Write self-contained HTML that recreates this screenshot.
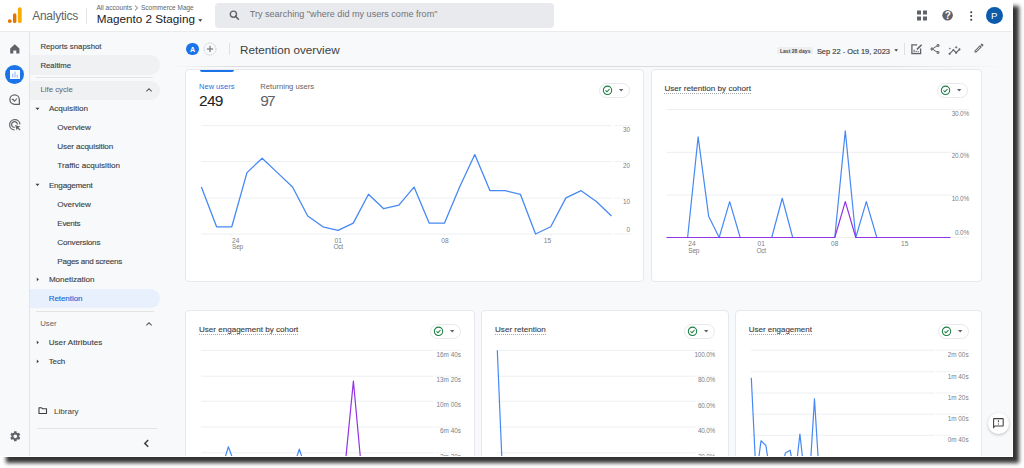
<!DOCTYPE html>
<html><head><meta charset="utf-8"><title>Retention overview - Analytics</title>
<style>
html,body{margin:0;padding:0;background:#fff;width:1024px;height:468px;overflow:hidden}
#frame{position:absolute;left:0;top:0;width:1013px;height:457px;background:#f8f9fa;overflow:hidden;
box-shadow:6px 6px 4px rgba(0,0,0,.8);font-family:"Liberation Sans", Arial, sans-serif}
#frame:after{content:"";position:absolute;right:0;top:0;width:1px;height:457px;background:#fff}
#frame:before{content:"";position:absolute;left:0;bottom:0;width:1013px;height:1px;background:#fff;z-index:5}
.a{position:absolute}
.t{position:absolute;white-space:nowrap;line-height:1}
.nv{-webkit-text-stroke:0.12px currentColor}
.nv2{-webkit-text-stroke:0.15px currentColor}
</style></head>
<body><div id="frame">
<div class="a" style="left:0px;top:0px;width:1013px;height:31px;background:#fff;border-bottom:1px solid #eaebed;box-sizing:content-box"></div>
<svg class="a" style="left:0;top:0" width="30" height="31" viewBox="0 0 30 31">
<rect x="17.9" y="7.3" width="3.8" height="15.8" rx="1.9" fill="#f9ab00"/>
<rect x="13" y="13.2" width="3.4" height="9.9" rx="1.7" fill="#e37400"/>
<circle cx="9.75" cy="21.1" r="1.95" fill="#e37400"/></svg>
<div class="t" style="top:10.34px;font-size:12px;color:#5f6368;left:32.20px;letter-spacing:-0.26px;">Analytics</div>
<div class="a" style="left:86px;top:7.5px;width:1px;height:16px;background:#e3e4e6"></div>
<div class="t" style="top:4.91px;font-size:6.6px;color:#5f6368;left:96.40px;">All accounts</div>
<svg class="a" style="left:134.2px;top:5px" width="5" height="6" viewBox="0 0 5 6"><path d="M1 .6 L3.6 3 L1 5.4" fill="none" stroke="#5f6368" stroke-width=".9"/></svg>
<div class="t" style="top:5.00px;font-size:6.5px;color:#5f6368;left:141.00px;">Scommerce Mage</div>
<div class="t" style="top:13.10px;font-size:11.7px;color:#202124;left:96.80px;">Magento 2 Staging</div>
<svg class="a" style="left:197.9px;top:18.6px" width="5" height="3" viewBox="0 0 5 3"><path d="M.2 .2 H4.4 L2.3 2.8Z" fill="#3c4043"/></svg>
<div class="a" style="left:215px;top:2.5px;width:339px;height:25.5px;background:#e9eaee;border-radius:4px"></div>
<svg class="a" style="left:229px;top:10px" width="11" height="10" viewBox="0 0 11 10">
<circle cx="4.4" cy="4.2" r="3.1" fill="none" stroke="#5f6368" stroke-width="1.4"/>
<path d="M6.6 6.4 L9.4 9.2" stroke="#5f6368" stroke-width="1.5" stroke-linecap="round"/></svg>
<div class="t" style="top:10.41px;font-size:9.09px;color:#6f7479;left:249.70px;">Try searching "where did my users come from"</div>
<svg class="a" style="left:915px;top:9px" width="14" height="13" viewBox="0 0 14 13">
<rect x="2" y="1.5" width="4" height="4" fill="#5f6368"/><rect x="8" y="1.5" width="4" height="4" fill="#5f6368"/>
<rect x="2" y="7.5" width="4" height="4" fill="#5f6368"/><rect x="8" y="7.5" width="4" height="4" fill="#5f6368"/></svg>
<svg class="a" style="left:941px;top:9px" width="14" height="13" viewBox="0 0 14 13">
<circle cx="6.6" cy="6.3" r="5.3" fill="#5f6368"/>
<text x="6.7" y="10" font-family="Liberation Sans, sans-serif" font-size="10" font-weight="bold" fill="#fff" text-anchor="middle">?</text></svg>
<svg class="a" style="left:968px;top:10px" width="6" height="12" viewBox="0 0 6 12">
<circle cx="3.2" cy="2.3" r="1.05" fill="#3c4043"/><circle cx="3.2" cy="6" r="1.05" fill="#3c4043"/><circle cx="3.2" cy="9.7" r="1.05" fill="#3c4043"/></svg>
<div class="a" style="left:985.6px;top:6.7px;width:17.2px;height:17.2px;background:#0b5cad;border-radius:50%"></div>
<div class="t" style="top:11.27px;font-size:9.6px;color:#fff;left:894.30px;width:200px;text-align:center;">P</div>
<div class="a" style="left:29px;top:32px;width:1px;height:425px;background:#e3e4e6"></div>
<svg class="a" style="left:9px;top:43px" width="12" height="12" viewBox="0 0 12 12">
<path d="M1.2 5.6 L5.8 1.3 L10.4 5.6 V10.6 H7.3 V7.4 H4.3 V10.6 H1.2Z" fill="#5f6368"/></svg>
<div class="a" style="left:5.2px;top:64.8px;width:19px;height:19px;background:#1a73e8;border-radius:50%"></div>
<svg class="a" style="left:10px;top:69.8px" width="10" height="9" viewBox="0 0 10 9">
<rect x="0" y="0" width="10" height="9" fill="#fff"/>
<rect x="2.3" y="3.6" width="1" height="4" fill="#8ab4f8"/><rect x="4.5" y="1.6" width="1" height="6" fill="#8ab4f8"/><rect x="6.7" y="4.6" width="1" height="3" fill="#8ab4f8"/></svg>
<svg class="a" style="left:8px;top:93px" width="14" height="14" viewBox="0 0 14 14">
<path d="M11.4 11.3 H6.6 A4.7 4.7 0 1 1 11.3 6.6 Z" fill="none" stroke="#5f6368" stroke-width="1.25" stroke-linejoin="round"/>
<path d="M3.8 7 L5 6.1 L6.4 8.3 L8.9 5.5" fill="none" stroke="#5f6368" stroke-width="1.1" stroke-linejoin="round"/></svg>
<svg class="a" style="left:8px;top:118px" width="14" height="14" viewBox="0 0 14 14">
<path d="M12 6.4 A5.2 5.2 0 1 0 6.6 12" fill="none" stroke="#5f6368" stroke-width="1.2"/>
<path d="M9.4 6.6 A2.9 2.9 0 1 0 6.7 9.4" fill="none" stroke="#5f6368" stroke-width="1.2"/>
<path d="M7 7 L12.6 8.8 L10.4 9.6 L12.6 11.8 L11.8 12.6 L9.6 10.4 L8.8 12.6Z" fill="#5f6368"/></svg>
<svg class="a" style="left:8.6px;top:429.8px" width="12.6" height="12.6" viewBox="0 0 24 24">
<path fill="#5f6368" d="M19.14 12.94c.04-.3.06-.61.06-.94 0-.32-.02-.64-.07-.94l2.03-1.58a.49.49 0 0 0 .12-.61l-1.92-3.32a.488.488 0 0 0-.59-.22l-2.39.96c-.5-.38-1.03-.7-1.62-.94l-.36-2.54a.484.484 0 0 0-.48-.41h-3.84c-.24 0-.43.17-.47.41l-.36 2.54c-.59.24-1.13.57-1.62.94l-2.39-.96c-.22-.08-.47 0-.59.22L2.74 8.87c-.12.21-.08.47.12.61l2.03 1.58c-.05.3-.09.63-.09.94s.02.64.07.94l-2.03 1.58a.49.49 0 0 0-.12.61l1.92 3.32c.12.22.37.29.59.22l2.39-.96c.5.38 1.03.7 1.62.94l.36 2.54c.05.24.24.41.48.41h3.84c.24 0 .44-.17.47-.41l.36-2.54c.59-.24 1.13-.56 1.62-.94l2.39.96c.22.08.47 0 .59-.22l1.92-3.32c.12-.22.07-.47-.12-.61l-2.01-1.58zM12 15.6c-1.98 0-3.6-1.62-3.6-3.6s1.62-3.6 3.6-3.6 3.6 1.62 3.6 3.6-1.62 3.6-3.6 3.6z"/></svg>
<div class="t nv" style="top:42.70px;font-size:7.8px;color:#3c4043;left:40.40px;">Reports snapshot</div>
<div class="a" style="left:29.5px;top:55.2px;width:130.5px;height:19.7px;background:#eff1f3;border-radius:0 10px 10px 0"></div>
<div class="t nv" style="top:61.80px;font-size:7.8px;color:#3c4043;left:40.40px;">Realtime</div>
<div class="a" style="left:36.2px;top:77px;width:117px;height:1px;background:#e3e4e6"></div>
<div class="a" style="left:29.5px;top:80.5px;width:130.5px;height:19.1px;background:#eff1f3;border-radius:0 10px 10px 0"></div>
<div class="t" style="top:86.40px;font-size:7.8px;color:#5f6368;left:40.40px;">Life cycle</div>
<svg class="a" style="left:144.8px;top:86.5px" width="8" height="6" viewBox="0 0 8 6"><path d="M1.3 4.4 L4 1.8 L6.7 4.4" fill="none" stroke="#5f6368" stroke-width="1.1"/></svg>
<svg class="a" style="left:35.4px;top:107.30000000000001px" width="5" height="4" viewBox="0 0 5 4"><path d="M.4 .8 H4.5 L2.45 3.1Z" fill="#3c4043"/></svg>
<div class="t nv" style="top:105.44px;font-size:8.1px;color:#3c4043;left:48.90px;letter-spacing:-0.006px;">Acquisition</div>
<div class="t nv" style="top:124.24px;font-size:8.1px;color:#3c4043;left:57.30px;letter-spacing:-0.011px;">Overview</div>
<div class="t nv" style="top:143.44px;font-size:8.1px;color:#3c4043;left:57.30px;letter-spacing:-0.109px;">User acquisition</div>
<div class="t nv" style="top:162.44px;font-size:8.1px;color:#3c4043;left:57.30px;letter-spacing:0.007px;">Traffic acquisition</div>
<svg class="a" style="left:35.4px;top:183.4px" width="5" height="4" viewBox="0 0 5 4"><path d="M.4 .8 H4.5 L2.45 3.1Z" fill="#3c4043"/></svg>
<div class="t nv" style="top:181.54px;font-size:8.1px;color:#3c4043;left:48.90px;letter-spacing:-0.214px;">Engagement</div>
<div class="t nv" style="top:200.54px;font-size:8.1px;color:#3c4043;left:57.30px;letter-spacing:-0.011px;">Overview</div>
<div class="t nv" style="top:219.54px;font-size:8.1px;color:#3c4043;left:57.30px;letter-spacing:-0.309px;">Events</div>
<div class="t nv" style="top:238.54px;font-size:8.1px;color:#3c4043;left:57.30px;letter-spacing:-0.184px;">Conversions</div>
<div class="t nv" style="top:257.54px;font-size:8.1px;color:#3c4043;left:57.30px;letter-spacing:-0.271px;">Pages and screens</div>
<svg class="a" style="left:35.8px;top:277.2px" width="4" height="5" viewBox="0 0 4 5"><path d="M.8 .6 V4.2 L2.9 2.4Z" fill="#3c4043"/></svg>
<div class="t nv" style="top:276.34px;font-size:8.1px;color:#3c4043;left:48.90px;letter-spacing:-0.030px;">Monetization</div>
<div class="a" style="left:29.5px;top:289.2px;width:130px;height:19.3px;background:#e8f0fe;border-radius:0 10px 10px 0"></div>
<div class="t nv" style="top:294.73px;font-size:8.0px;color:#1967d2;left:48.70px;letter-spacing:-0.055px;">Retention</div>
<div class="a" style="left:35.9px;top:311px;width:117.7px;height:1px;background:#e3e4e6"></div>
<div class="t" style="top:319.90px;font-size:7.8px;color:#5f6368;left:40.20px;">User</div>
<svg class="a" style="left:144.5px;top:320.6px" width="8" height="6" viewBox="0 0 8 6"><path d="M1.3 4.4 L4 1.8 L6.7 4.4" fill="none" stroke="#5f6368" stroke-width="1.1"/></svg>
<svg class="a" style="left:35.8px;top:340.09999999999997px" width="4" height="5" viewBox="0 0 4 5"><path d="M.8 .6 V4.2 L2.9 2.4Z" fill="#3c4043"/></svg>
<div class="t nv" style="top:338.93px;font-size:8.0px;color:#3c4043;left:48.70px;letter-spacing:0.080px;">User Attributes</div>
<svg class="a" style="left:35.8px;top:358.9px" width="4" height="5" viewBox="0 0 4 5"><path d="M.8 .6 V4.2 L2.9 2.4Z" fill="#3c4043"/></svg>
<div class="t nv" style="top:357.73px;font-size:8.0px;color:#3c4043;left:48.70px;letter-spacing:-0.093px;">Tech</div>
<svg class="a" style="left:38px;top:406px" width="10" height="9" viewBox="0 0 10 9"><path d="M1 1.8 H3.6 L4.6 2.8 H8.5 V7.5 H1 Z" fill="none" stroke="#3c4043" stroke-width="1.1" stroke-linejoin="round"/></svg>
<div class="t" style="top:407.79px;font-size:8.05px;color:#3c4043;left:54.00px;">Library</div>
<div class="a" style="left:36.5px;top:428px;width:121.3px;height:1px;background:#e3e4e6"></div>
<svg class="a" style="left:142.5px;top:438.5px" width="7" height="9" viewBox="0 0 7 9"><path d="M5.2 1 L1.8 4.4 L5.2 7.8" fill="none" stroke="#3c4043" stroke-width="1.5"/></svg>
<div class="a" style="left:186.2px;top:42.7px;width:12.6px;height:12.6px;background:#1a73e8;border-radius:50%"></div>
<div class="t" style="top:46.31px;font-size:7.2px;color:#fff;left:92.50px;width:200px;text-align:center;font-weight:bold;">A</div>
<svg class="a" style="left:202.5px;top:42px" width="14" height="14" viewBox="0 0 14 14"><circle cx="7" cy="7" r="6" fill="none" stroke="#a8acb1" stroke-width="0.75" stroke-dasharray="0.9 0.9"/><path d="M7 3.9 V10.1 M3.9 7 H10.1" stroke="#5f6368" stroke-width="1"/></svg>
<div class="a" style="left:228.5px;top:43px;width:1px;height:12px;background:#dfe1e4"></div>
<div class="t" style="top:43.79px;font-size:11.71px;color:#3c4043;left:240.10px;">Retention overview</div>
<div class="a" style="left:777.2px;top:46.6px;width:35.6px;height:7.8px;background:#eceef0;border-radius:1.5px"></div>
<div class="t" style="top:48.58px;font-size:5.1px;color:#474a4f;left:779.90px;font-weight:bold;">Last 28 days</div>
<div class="t nv2" style="top:47.57px;font-size:7.48px;color:#3c4043;left:816.90px;">Sep 22 - Oct 19, 2023</div>
<svg class="a" style="left:894px;top:49px" width="5" height="3" viewBox="0 0 5 3"><path d="M.3 .2 H4.1 L2.2 2.4Z" fill="#3c4043"/></svg>
<div class="a" style="left:904.2px;top:43px;width:1px;height:12px;background:#dfe1e4"></div>
<svg class="a" style="left:910px;top:43px" width="14" height="13" viewBox="0 0 14 13">
<path d="M7.2 1.9 H1.9 V10.6 H10.6 V5.6" fill="none" stroke="#5f6368" stroke-width="1.3"/>
<path d="M7 6.4 L11.6 1.8" stroke="#5f6368" stroke-width="1.5"/>
<rect x="3.6" y="6.6" width="1" height="2.8" fill="#5f6368"/><rect x="5.6" y="7.6" width="1" height="1.8" fill="#5f6368"/><rect x="7.6" y="8" width="1" height="1.4" fill="#5f6368"/></svg>
<svg class="a" style="left:929.1px;top:43.2px" width="12" height="12" viewBox="0 0 24 24"><path fill="#5f6368" d="M18 16.08c-.76 0-1.44.3-1.96.77L8.91 12.7c.05-.23.09-.46.09-.7s-.04-.47-.09-.7l7.05-4.11c.54.5 1.25.81 2.04.81 1.66 0 3-1.34 3-3s-1.34-3-3-3-3 1.34-3 3c0 .24.04.47.09.7L8.04 9.81C7.5 9.31 6.79 9 6 9c-1.66 0-3 1.34-3 3s1.34 3 3 3c.79 0 1.5-.31 2.04-.81l7.12 4.16c-.05.21-.08.43-.08.65 0 1.61 1.31 2.92 2.92 2.92s2.92-1.31 2.92-2.92c0-1.61-1.31-2.92-2.92-2.92zM18 4c.55 0 1 .45 1 1s-.45 1-1 1-1-.45-1-1 .45-1 1-1zM6 13c-.55 0-1-.45-1-1s.45-1 1-1 1 .45 1 1-.45 1-1 1zm12 7.02c-.55 0-1-.45-1-1s.45-1 1-1 1 .45 1 1-.45 1-1 1z"/></svg>
<svg class="a" style="left:948px;top:43.9px" width="13" height="13" viewBox="0 0 24 24"><path fill="#5f6368" d="M21 8c-1.45 0-2.26 1.44-1.93 2.51l-3.55 3.56c-.3-.09-.74-.09-1.04 0l-2.55-2.55C12.27 10.45 11.46 9 10 9c-1.45 0-2.27 1.44-1.93 2.52l-4.56 4.55C2.44 15.74 1 16.55 1 18c0 1.1.9 2 2 2 1.45 0 2.26-1.44 1.93-2.51l4.55-4.56c.3.09.74.09 1.04 0l2.55 2.55C12.73 16.55 13.54 18 15 18c1.45 0 2.270-1.44 1.93-2.52l3.56-3.55c1.07.33 2.51-.48 2.51-1.93 0-1.1-.9-2-2-2zM15 9l.94-2.07L18 6l-2.06-.93L15 3l-.92 2.07L12 6l2.08.93zM3.5 11L4 9l2-.5L4 8l-.5-2L3 8l-2 .5L3 9z"/></svg>
<svg class="a" style="left:973px;top:42.4px" width="12" height="12" viewBox="0 0 24 24"><path fill="#5f6368" d="M3 17.25V21h3.75L17.81 9.94l-3.75-3.75L3 17.25zM5.92 19H5v-.92l9.06-9.06.92.92L5.92 19zM20.71 5.63l-2.34-2.34c-.39-.39-1.02-.39-1.41 0l-1.83 1.83 3.75 3.75 1.83-1.83c.39-.39.39-1.02 0-1.41z"/></svg>
<div class="a" style="left:168px;top:65.8px;width:838px;height:1px;background:linear-gradient(90deg,rgba(218,220,224,0),#dadce0 8%,#dadce0 85%,rgba(218,220,224,0))"></div>
<div class="a" style="left:185px;top:69px;width:459px;height:213px;background:#fff;border:1px solid #e6e8eb;border-radius:4px;box-sizing:border-box"></div>
<div class="a" style="left:199.6px;top:69.6px;width:34.2px;height:2.8px;background:#1a73e8;border-radius:0 0 2px 2px"></div>
<div class="t" style="top:83.28px;font-size:7.47px;color:#1a73e8;left:199.10px;">New users</div>
<div class="t" style="top:92.88px;font-size:15.5px;color:#202124;left:199.00px;letter-spacing:-0.743px;">249</div>
<div class="t" style="top:83.13px;font-size:7.64px;color:#5f6368;left:260.30px;">Returning users</div>
<div class="t" style="top:92.88px;font-size:15.5px;color:#5f6368;left:260.30px;letter-spacing:-1.805px;">97</div>
<div class="a" style="left:599px;top:83px;width:31px;height:15px;background:#fff;border:1px solid #e6e8eb;border-radius:8px;box-sizing:border-box"></div><svg class="a" style="left:599px;top:83px" width="31" height="15" viewBox="0 0 31 15">
<circle cx="8.5" cy="7.3" r="4.2" fill="none" stroke="#1a7f43" stroke-width="1.05"/>
<path d="M6.5 7.4 L7.9 8.8 L10.5 6.1" fill="none" stroke="#1a7f43" stroke-width="1.05"/>
<path d="M20 6.1 H24.4 L22.2 8.5Z" fill="#5f6368"/></svg>
<svg class="a" style="left:0;top:0" width="1013" height="457">
<line x1="201.4" x2="611.5" y1="125.7" y2="125.7" stroke="#eceef0" stroke-width="1"/>
<line x1="614" x2="631" y1="125.7" y2="125.7" stroke="#f1f2f4" stroke-width="1"/>
<line x1="201.4" x2="611.5" y1="161.6" y2="161.6" stroke="#eceef0" stroke-width="1"/>
<line x1="614" x2="631" y1="161.6" y2="161.6" stroke="#f1f2f4" stroke-width="1"/>
<line x1="201.4" x2="611.5" y1="198.1" y2="198.1" stroke="#eceef0" stroke-width="1"/>
<line x1="614" x2="631" y1="198.1" y2="198.1" stroke="#f1f2f4" stroke-width="1"/>
<line x1="201.4" x2="611.5" y1="234.0" y2="234.0" stroke="#eceef0" stroke-width="1"/>
<line x1="614" x2="631" y1="234.0" y2="234.0" stroke="#f1f2f4" stroke-width="1"/>
<line x1="231.78" x2="231.78" y1="234.0" y2="236.0" stroke="#eceef0" stroke-width="1"/>
<line x1="338.10" x2="338.10" y1="234.0" y2="236.0" stroke="#eceef0" stroke-width="1"/>
<line x1="444.42" x2="444.42" y1="234.0" y2="236.0" stroke="#eceef0" stroke-width="1"/>
<line x1="550.74" x2="550.74" y1="234.0" y2="236.0" stroke="#eceef0" stroke-width="1"/>
<polyline points="201.40,187.07 216.59,226.78 231.78,226.78 246.97,172.63 262.16,158.19 277.34,172.63 292.53,187.07 307.72,215.95 322.91,226.78 338.10,230.39 353.29,223.17 368.48,194.29 383.67,208.73 398.86,205.12 414.04,187.07 429.23,223.17 444.42,223.17 459.61,187.07 474.80,154.58 489.99,190.68 505.18,190.68 520.37,194.29 535.56,234.00 550.74,226.78 565.93,197.90 581.12,190.68 596.31,201.51 611.50,215.95" fill="none" stroke="#4689f4" stroke-width="1.3" stroke-linejoin="round"/>
</svg>
<div class="t" style="top:127.28px;font-size:6.4px;color:#7b8085;right:383.00px;text-align:right;">30</div>
<div class="t" style="top:162.78px;font-size:6.4px;color:#7b8085;right:383.00px;text-align:right;">20</div>
<div class="t" style="top:199.38px;font-size:6.4px;color:#7b8085;right:383.00px;text-align:right;">10</div>
<div class="t" style="top:226.88px;font-size:6.4px;color:#7b8085;right:383.00px;text-align:right;">0</div>
<div class="t" style="top:237.91px;font-size:6.6px;color:#7b8085;left:232.00px;">24</div>
<div class="t" style="top:243.91px;font-size:6.6px;color:#7b8085;left:232.00px;letter-spacing:-0.25px;">Sep</div>
<div class="t" style="top:237.91px;font-size:6.6px;color:#7b8085;left:238.20px;width:200px;text-align:center;">01</div>
<div class="t" style="top:243.91px;font-size:6.6px;color:#7b8085;left:238.20px;width:200px;text-align:center;letter-spacing:-0.25px;">Oct</div>
<div class="t" style="top:237.91px;font-size:6.6px;color:#7b8085;left:344.90px;width:200px;text-align:center;">08</div>
<div class="t" style="top:237.91px;font-size:6.6px;color:#7b8085;right:461.80px;text-align:right;">15</div>
<div class="a" style="left:651px;top:69px;width:331px;height:213px;background:#fff;border:1px solid #e6e8eb;border-radius:4px;box-sizing:border-box"></div>
<div class="t nv" style="top:84.63px;font-size:8.12px;color:#3c4043;left:664.40px;">User retention by cohort</div><div class="a" style="left:664px;top:93px;width:87px;height:1px;background:repeating-linear-gradient(90deg,#a5a9ae 0 1px,transparent 1px 2px)"></div>
<div class="a" style="left:937px;top:83px;width:31px;height:15px;background:#fff;border:1px solid #e6e8eb;border-radius:8px;box-sizing:border-box"></div><svg class="a" style="left:937px;top:83px" width="31" height="15" viewBox="0 0 31 15">
<circle cx="8.5" cy="7.3" r="4.2" fill="none" stroke="#1a7f43" stroke-width="1.05"/>
<path d="M6.5 7.4 L7.9 8.8 L10.5 6.1" fill="none" stroke="#1a7f43" stroke-width="1.05"/>
<path d="M20 6.1 H24.4 L22.2 8.5Z" fill="#5f6368"/></svg>
<svg class="a" style="left:0;top:0" width="1013" height="457">
<line x1="666.6" x2="950.4" y1="109.6" y2="109.6" stroke="#eceef0" stroke-width="1"/>
<line x1="951" x2="969" y1="109.6" y2="109.6" stroke="#f1f2f4" stroke-width="1"/>
<line x1="666.6" x2="950.4" y1="152.3" y2="152.3" stroke="#eceef0" stroke-width="1"/>
<line x1="951" x2="969" y1="152.3" y2="152.3" stroke="#f1f2f4" stroke-width="1"/>
<line x1="666.6" x2="950.4" y1="195.1" y2="195.1" stroke="#eceef0" stroke-width="1"/>
<line x1="951" x2="969" y1="195.1" y2="195.1" stroke="#f1f2f4" stroke-width="1"/>
<line x1="666.6" x2="950.4" y1="237.5" y2="237.5" stroke="#eceef0" stroke-width="1"/>
<line x1="951" x2="969" y1="237.5" y2="237.5" stroke="#f1f2f4" stroke-width="1"/>
<polyline points="666.60,237.50 677.11,237.50 687.62,237.50 698.13,136.89 708.64,216.18 719.16,237.50 729.67,201.69 740.18,237.50 750.69,237.50 761.20,237.50 771.71,237.50 782.22,198.28 792.73,237.50 803.24,237.50 813.76,237.50 824.27,237.50 834.78,237.50 845.29,130.92 855.80,237.50 866.31,201.69 876.82,237.50 887.33,237.50 897.84,237.50 908.36,237.50 918.87,237.50 929.38,237.50 939.89,237.50 950.40,237.50" fill="none" stroke="#4689f4" stroke-width="1.2" stroke-linejoin="round"/>
<polyline points="666.60,237.50 677.11,237.50 687.62,237.50 698.13,237.50 708.64,237.50 719.16,237.50 729.67,237.50 740.18,237.50 750.69,237.50 761.20,237.50 771.71,237.50 782.22,237.50 792.73,237.50 803.24,237.50 813.76,237.50 824.27,237.50 834.78,237.50 845.29,201.69 855.80,237.50 866.31,237.50 876.82,237.50 887.33,237.50 897.84,237.50 908.36,237.50 918.87,237.50 929.38,237.50 939.89,237.50 950.40,237.50" fill="none" stroke="#9334e6" stroke-width="1.2" stroke-linejoin="round"/>
</svg>
<div class="t" style="top:111.18px;font-size:6.4px;color:#7b8085;right:44.00px;text-align:right;letter-spacing:-0.15px;">30.0%</div>
<div class="t" style="top:153.48px;font-size:6.4px;color:#7b8085;right:44.00px;text-align:right;letter-spacing:-0.15px;">20.0%</div>
<div class="t" style="top:196.08px;font-size:6.4px;color:#7b8085;right:44.00px;text-align:right;letter-spacing:-0.15px;">10.0%</div>
<div class="t" style="top:230.48px;font-size:6.4px;color:#7b8085;right:44.00px;text-align:right;letter-spacing:-0.15px;">0.0%</div>
<div class="t" style="top:241.11px;font-size:6.6px;color:#7b8085;left:688.30px;">24</div>
<div class="t" style="top:247.61px;font-size:6.6px;color:#7b8085;left:688.30px;letter-spacing:-0.25px;">Sep</div>
<div class="t" style="top:241.11px;font-size:6.6px;color:#7b8085;left:661.20px;width:200px;text-align:center;">01</div>
<div class="t" style="top:247.61px;font-size:6.6px;color:#7b8085;left:661.20px;width:200px;text-align:center;letter-spacing:-0.25px;">Oct</div>
<div class="t" style="top:241.11px;font-size:6.6px;color:#7b8085;left:734.78px;width:200px;text-align:center;">08</div>
<div class="t" style="top:241.11px;font-size:6.6px;color:#7b8085;right:104.64px;text-align:right;">15</div>
<div class="a" style="left:185px;top:310px;width:290px;height:160px;background:#fff;border:1px solid #e6e8eb;border-radius:4px;box-sizing:border-box"></div>
<div class="t nv" style="top:326.18px;font-size:8.06px;color:#3c4043;left:199.00px;">User engagement by cohort</div><div class="a" style="left:199px;top:334px;width:100px;height:1px;background:repeating-linear-gradient(90deg,#a5a9ae 0 1px,transparent 1px 2px)"></div>
<div class="a" style="left:430px;top:324px;width:31px;height:15px;background:#fff;border:1px solid #e6e8eb;border-radius:8px;box-sizing:border-box"></div><svg class="a" style="left:430px;top:324px" width="31" height="15" viewBox="0 0 31 15">
<circle cx="8.5" cy="7.3" r="4.2" fill="none" stroke="#1a7f43" stroke-width="1.05"/>
<path d="M6.5 7.4 L7.9 8.8 L10.5 6.1" fill="none" stroke="#1a7f43" stroke-width="1.05"/>
<path d="M20 6.1 H24.4 L22.2 8.5Z" fill="#5f6368"/></svg>
<div class="a" style="left:481px;top:310px;width:248px;height:160px;background:#fff;border:1px solid #e6e8eb;border-radius:4px;box-sizing:border-box"></div>
<div class="t nv" style="top:326.14px;font-size:8.1px;color:#3c4043;left:495.00px;">User retention</div><div class="a" style="left:495px;top:334px;width:51px;height:1px;background:repeating-linear-gradient(90deg,#a5a9ae 0 1px,transparent 1px 2px)"></div>
<div class="a" style="left:684px;top:324px;width:31px;height:15px;background:#fff;border:1px solid #e6e8eb;border-radius:8px;box-sizing:border-box"></div><svg class="a" style="left:684px;top:324px" width="31" height="15" viewBox="0 0 31 15">
<circle cx="8.5" cy="7.3" r="4.2" fill="none" stroke="#1a7f43" stroke-width="1.05"/>
<path d="M6.5 7.4 L7.9 8.8 L10.5 6.1" fill="none" stroke="#1a7f43" stroke-width="1.05"/>
<path d="M20 6.1 H24.4 L22.2 8.5Z" fill="#5f6368"/></svg>
<div class="a" style="left:735px;top:310px;width:247px;height:160px;background:#fff;border:1px solid #e6e8eb;border-radius:4px;box-sizing:border-box"></div>
<div class="t nv" style="top:326.27px;font-size:7.95px;color:#3c4043;left:748.80px;">User engagement</div><div class="a" style="left:749px;top:334px;width:64px;height:1px;background:repeating-linear-gradient(90deg,#a5a9ae 0 1px,transparent 1px 2px)"></div>
<div class="a" style="left:938px;top:324px;width:31px;height:15px;background:#fff;border:1px solid #e6e8eb;border-radius:8px;box-sizing:border-box"></div><svg class="a" style="left:938px;top:324px" width="31" height="15" viewBox="0 0 31 15">
<circle cx="8.5" cy="7.3" r="4.2" fill="none" stroke="#1a7f43" stroke-width="1.05"/>
<path d="M6.5 7.4 L7.9 8.8 L10.5 6.1" fill="none" stroke="#1a7f43" stroke-width="1.05"/>
<path d="M20 6.1 H24.4 L22.2 8.5Z" fill="#5f6368"/></svg>
<svg class="a" style="left:0;top:0" width="1013" height="457">
<line x1="201.1" x2="433.4" y1="350.3" y2="350.3" stroke="#eceef0" stroke-width="1"/>
<line x1="435" x2="461" y1="350.3" y2="350.3" stroke="#f1f2f4" stroke-width="1"/>
<line x1="497.3" x2="695.6" y1="350.3" y2="350.3" stroke="#eceef0" stroke-width="1"/>
<line x1="697" x2="715" y1="350.3" y2="350.3" stroke="#f1f2f4" stroke-width="1"/>
<line x1="201.1" x2="433.4" y1="376.2" y2="376.2" stroke="#eceef0" stroke-width="1"/>
<line x1="435" x2="461" y1="376.2" y2="376.2" stroke="#f1f2f4" stroke-width="1"/>
<line x1="497.3" x2="695.6" y1="376.2" y2="376.2" stroke="#eceef0" stroke-width="1"/>
<line x1="697" x2="715" y1="376.2" y2="376.2" stroke="#f1f2f4" stroke-width="1"/>
<line x1="201.1" x2="433.4" y1="401.2" y2="401.2" stroke="#eceef0" stroke-width="1"/>
<line x1="435" x2="461" y1="401.2" y2="401.2" stroke="#f1f2f4" stroke-width="1"/>
<line x1="497.3" x2="695.6" y1="401.2" y2="401.2" stroke="#eceef0" stroke-width="1"/>
<line x1="697" x2="715" y1="401.2" y2="401.2" stroke="#f1f2f4" stroke-width="1"/>
<line x1="201.1" x2="433.4" y1="427" y2="427" stroke="#eceef0" stroke-width="1"/>
<line x1="435" x2="461" y1="427" y2="427" stroke="#f1f2f4" stroke-width="1"/>
<line x1="497.3" x2="695.6" y1="427" y2="427" stroke="#eceef0" stroke-width="1"/>
<line x1="697" x2="715" y1="427" y2="427" stroke="#f1f2f4" stroke-width="1"/>
<line x1="201.1" x2="433.4" y1="452.8" y2="452.8" stroke="#eceef0" stroke-width="1"/>
<line x1="435" x2="461" y1="452.8" y2="452.8" stroke="#f1f2f4" stroke-width="1"/>
<line x1="497.3" x2="695.6" y1="452.8" y2="452.8" stroke="#eceef0" stroke-width="1"/>
<line x1="697" x2="715" y1="452.8" y2="452.8" stroke="#f1f2f4" stroke-width="1"/>
<line x1="751.2" x2="935" y1="350.2" y2="350.2" stroke="#eceef0" stroke-width="1"/>
<line x1="936.5" x2="968.6" y1="350.2" y2="350.2" stroke="#f1f2f4" stroke-width="1"/>
<line x1="751.2" x2="935" y1="371.8" y2="371.8" stroke="#eceef0" stroke-width="1"/>
<line x1="936.5" x2="968.6" y1="371.8" y2="371.8" stroke="#f1f2f4" stroke-width="1"/>
<line x1="751.2" x2="935" y1="393" y2="393" stroke="#eceef0" stroke-width="1"/>
<line x1="936.5" x2="968.6" y1="393" y2="393" stroke="#f1f2f4" stroke-width="1"/>
<line x1="751.2" x2="935" y1="414.2" y2="414.2" stroke="#eceef0" stroke-width="1"/>
<line x1="936.5" x2="968.6" y1="414.2" y2="414.2" stroke="#f1f2f4" stroke-width="1"/>
<line x1="751.2" x2="935" y1="435.3" y2="435.3" stroke="#eceef0" stroke-width="1"/>
<line x1="936.5" x2="968.6" y1="435.3" y2="435.3" stroke="#f1f2f4" stroke-width="1"/>
<line x1="751.2" x2="935" y1="456.5" y2="456.5" stroke="#eceef0" stroke-width="1"/>
<line x1="936.5" x2="968.6" y1="456.5" y2="456.5" stroke="#f1f2f4" stroke-width="1"/>
<polyline points="201.1,478.6 218.5,478.6 228.4,446.7 240,478.6 290,478.6 299.3,449.1 309,478.6 433,478.6" fill="none" stroke="#4689f4" stroke-width="1.2" stroke-linejoin="round"/>
<polyline points="201.1,478.6 343.8,478.6 353.4,381.1 362.3,478.6 433,478.6" fill="none" stroke="#9334e6" stroke-width="1.2" stroke-linejoin="round"/>
<polyline points="497.3,350.2 502.7,478.6 695,478.6" fill="none" stroke="#4689f4" stroke-width="1.2"/>
<polyline points="751.30,377.70 756.16,477.40 761.02,440.80 765.88,445.50 770.74,477.40 775.60,477.40 780.46,477.40 785.32,453.00 790.18,450.20 795.04,477.40 799.90,434.10 804.76,477.40 809.62,477.40 814.48,398.90 819.34,477.40 824.20,477.40 829.06,477.40 833.92,477.40 838.78,477.40 843.64,477.40 848.50,477.40 853.36,477.40 858.22,477.40 863.08,477.40 867.94,477.40 872.80,477.40 877.66,477.40 882.52,477.40 887.38,477.40 892.24,477.40 897.10,477.40 901.96,477.40 906.82,477.40 911.68,477.40 916.54,477.40 921.40,477.40 926.26,477.40 931.12,477.40" fill="none" stroke="#4689f4" stroke-width="1.2" stroke-linejoin="round"/>
</svg>
<div class="t" style="top:351.58px;font-size:6.4px;color:#7b8085;right:552.00px;text-align:right;">16m 40s</div>
<div class="t" style="top:377.48px;font-size:6.4px;color:#7b8085;right:552.00px;text-align:right;">13m 20s</div>
<div class="t" style="top:402.48px;font-size:6.4px;color:#7b8085;right:552.00px;text-align:right;">10m 00s</div>
<div class="t" style="top:428.28px;font-size:6.4px;color:#7b8085;right:552.00px;text-align:right;">6m 40s</div>
<div class="t" style="top:454.08px;font-size:6.4px;color:#7b8085;right:552.00px;text-align:right;">3m 20s</div>
<div class="t" style="top:352.28px;font-size:6.4px;color:#7b8085;right:298.00px;text-align:right;letter-spacing:-0.2px;">100.0%</div>
<div class="t" style="top:377.48px;font-size:6.4px;color:#7b8085;right:298.00px;text-align:right;letter-spacing:-0.2px;">80.0%</div>
<div class="t" style="top:402.78px;font-size:6.4px;color:#7b8085;right:298.00px;text-align:right;letter-spacing:-0.2px;">60.0%</div>
<div class="t" style="top:428.38px;font-size:6.4px;color:#7b8085;right:298.00px;text-align:right;letter-spacing:-0.2px;">40.0%</div>
<div class="t" style="top:454.08px;font-size:6.4px;color:#7b8085;right:298.00px;text-align:right;letter-spacing:-0.2px;">20.0%</div>
<div class="t" style="top:352.48px;font-size:6.4px;color:#7b8085;right:44.40px;text-align:right;">2m 00s</div>
<div class="t" style="top:373.58px;font-size:6.4px;color:#7b8085;right:44.40px;text-align:right;">1m 40s</div>
<div class="t" style="top:394.78px;font-size:6.4px;color:#7b8085;right:44.40px;text-align:right;">1m 20s</div>
<div class="t" style="top:416.08px;font-size:6.4px;color:#7b8085;right:44.40px;text-align:right;">1m 00s</div>
<div class="t" style="top:436.88px;font-size:6.4px;color:#7b8085;right:44.40px;text-align:right;">0m 40s</div>
<div class="a" style="left:988.2px;top:413.3px;width:20.4px;height:20.4px;background:#fff;border-radius:50%;box-shadow:0 1px 3px rgba(60,64,67,.3)"></div>
<svg class="a" style="left:992.2px;top:417px" width="12.8" height="12.8" viewBox="0 0 24 24"><path fill="#3c4043" d="M20 2H4c-1.1 0-1.99.9-1.99 2L2 22l4-4h14c1.1 0 2-.9 2-2V4c0-1.1-.9-2-2-2zm0 14H5.17l-.59.59-.58.58V4h16v12zM11 12h2v2h-2zm0-6h2v4h-2z"/></svg>
</div></body></html>
